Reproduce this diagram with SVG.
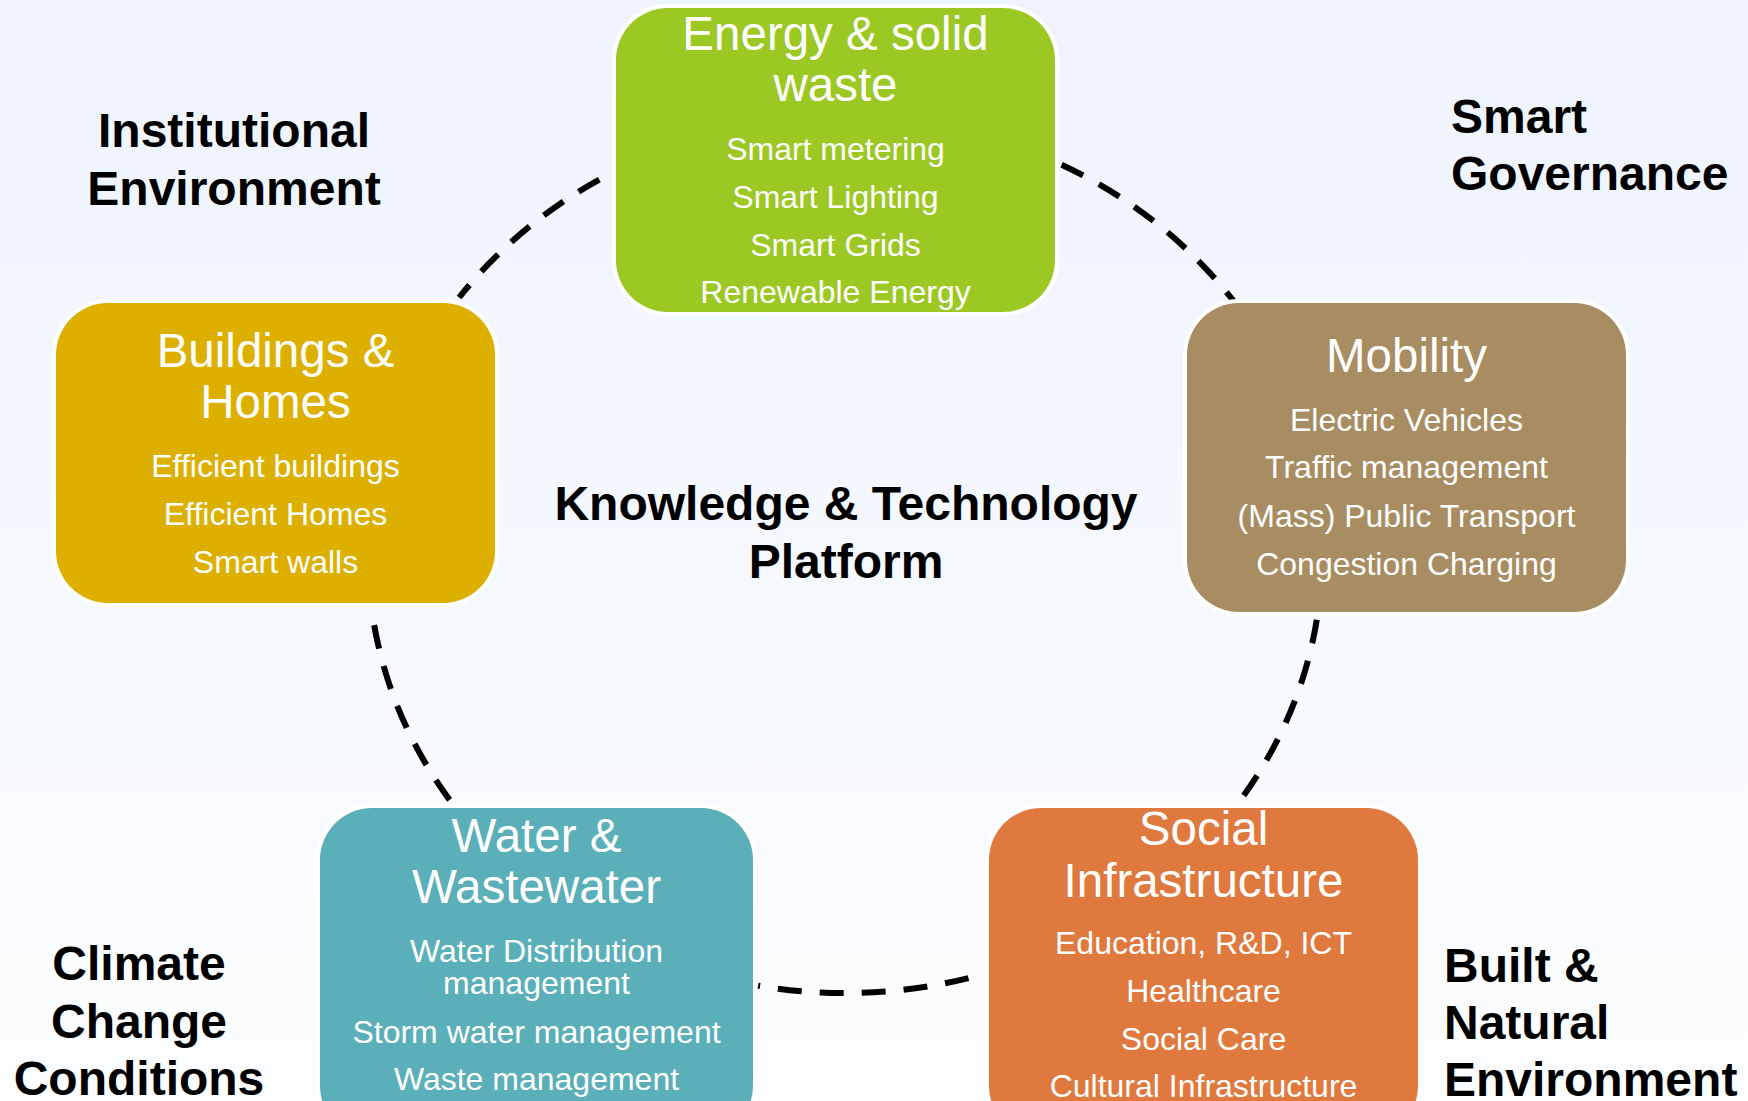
<svg xmlns="http://www.w3.org/2000/svg" width="1748" height="1101" viewBox="0 0 1748 1101">
  <defs>
    <linearGradient id="bg" x1="0" y1="0" x2="0" y2="1">
      <stop offset="0" stop-color="#eef3fd"/>
      <stop offset="1" stop-color="#fcfdfe"/>
    </linearGradient>
  </defs>
  <style>
    .box { stroke: #ffffff; stroke-width: 8; paint-order: stroke; }
    .title { font-family: "Liberation Sans", Arial, sans-serif; font-size: 47.5px; fill: #ffffff; text-anchor: middle; }
    .item { font-family: "Liberation Sans", Arial, sans-serif; font-size: 32px; fill: #ffffff; text-anchor: middle; }
    .label { font-family: "Liberation Sans", Arial, sans-serif; font-size: 48px; font-weight: bold; fill: #000000; }
    .arc { fill: none; stroke: #000000; stroke-width: 6; stroke-dasharray: 24 18; }
  </style>
  <rect x="0" y="0" width="1748" height="1101" fill="url(#bg)"/>

  <g id="connectors">
    <path class="arc" d="M 1061.6 164.7 A 477 438 0 0 1 1235.7 303.8"/>
    <path class="arc" d="M 1316.8 619.7 A 477 438 0 0 1 1240.5 799.9"/>
    <path class="arc" d="M 968.5 978.1 A 477 438 0 0 1 758.1 985.7"/>
    <path class="arc" d="M 449.6 799.9 A 477 438 0 0 1 373.9 623.5"/>
    <path class="arc" d="M 599.3 179.6 A 477 438 0 0 0 459.1 297.5"/>
  </g>

  <g id="energy">
    <rect class="box" x="616" y="8" width="439" height="304" rx="52" fill="#9bc823"/>
    <text class="title" x="835.5" y="50">Energy &amp; solid</text>
    <text class="title" x="835.5" y="101">waste</text>
    <text class="item" x="835.5" y="160">Smart metering</text>
    <text class="item" x="835.5" y="208">Smart Lighting</text>
    <text class="item" x="835.5" y="256">Smart Grids</text>
    <text class="item" x="835.5" y="303">Renewable Energy</text>
  </g>

  <g id="buildings">
    <rect class="box" x="56" y="303" width="439" height="300" rx="52" fill="#ddb000"/>
    <text class="title" x="275.5" y="367">Buildings &amp;</text>
    <text class="title" x="275.5" y="418">Homes</text>
    <text class="item" x="275.5" y="477">Efficient buildings</text>
    <text class="item" x="275.5" y="525">Efficient Homes</text>
    <text class="item" x="275.5" y="573">Smart walls</text>
  </g>

  <g id="mobility">
    <rect class="box" x="1187" y="303" width="439" height="309" rx="52" fill="#a98d62"/>
    <text class="title" x="1406.5" y="372">Mobility</text>
    <text class="item" x="1406.5" y="431">Electric Vehicles</text>
    <text class="item" x="1406.5" y="478">Traffic management</text>
    <text class="item" x="1406.5" y="527">(Mass) Public Transport</text>
    <text class="item" x="1406.5" y="575">Congestion Charging</text>
  </g>

  <g id="water">
    <rect class="box" x="320" y="808" width="433" height="330" rx="52" fill="#5aafb8"/>
    <text class="title" x="536.5" y="852">Water &amp;</text>
    <text class="title" x="536.5" y="903">Wastewater</text>
    <text class="item" x="536.5" y="962">Water Distribution</text>
    <text class="item" x="536.5" y="994">management</text>
    <text class="item" x="536.5" y="1043">Storm water management</text>
    <text class="item" x="536.5" y="1090">Waste management</text>
  </g>

  <g id="social">
    <rect class="box" x="989" y="808" width="429" height="330" rx="52" fill="#e0793e"/>
    <text class="title" x="1203.5" y="845">Social</text>
    <text class="title" x="1203.5" y="897">Infrastructure</text>
    <text class="item" x="1203.5" y="954">Education, R&amp;D, ICT</text>
    <text class="item" x="1203.5" y="1002">Healthcare</text>
    <text class="item" x="1203.5" y="1050">Social Care</text>
    <text class="item" x="1203.5" y="1097">Cultural Infrastructure</text>
  </g>

  <g id="label-institutional">
    <text class="label" x="234" y="147" text-anchor="middle">Institutional</text>
    <text class="label" x="234" y="205" text-anchor="middle">Environment</text>
  </g>
  <g id="label-governance">
    <text class="label" x="1451" y="133">Smart</text>
    <text class="label" x="1451" y="190">Governance</text>
  </g>
  <g id="label-knowledge">
    <text class="label" x="846" y="520" text-anchor="middle">Knowledge &amp; Technology</text>
    <text class="label" x="846" y="578" text-anchor="middle">Platform</text>
  </g>
  <g id="label-climate">
    <text class="label" x="139" y="980" text-anchor="middle">Climate</text>
    <text class="label" x="139" y="1038" text-anchor="middle">Change</text>
    <text class="label" x="139" y="1095" text-anchor="middle">Conditions</text>
  </g>
  <g id="label-built">
    <text class="label" x="1444" y="982">Built &amp;</text>
    <text class="label" x="1444" y="1039">Natural</text>
    <text class="label" x="1444" y="1096">Environment</text>
  </g>
</svg>
